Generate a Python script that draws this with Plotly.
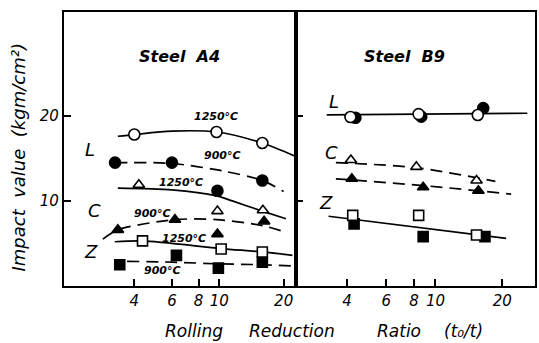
import math
import plotly.graph_objects as go

# ---------------- Steel A4 (left panel) ----------------
a4_L1250_x = [4.0, 9.7, 15.9]
a4_L1250_y = [17.8, 18.1, 16.8]
a4_L1250_cx = [3.35, 4.0, 6.0, 9.7, 15.9, 22.4]
a4_L1250_cy = [17.6, 17.8, 18.2, 18.1, 16.8, 15.3]

a4_L900_x = [3.25, 6.0, 9.8, 15.9]
a4_L900_y = [14.5, 14.5, 11.2, 12.4]
a4_L900_cx = [3.25, 6.0, 10.5, 15.9, 20.0]
a4_L900_cy = [14.5, 14.4, 13.5, 12.4, 11.1]

a4_C1250_x = [4.2, 9.8, 16.0]
a4_C1250_y = [11.9, 8.8, 8.9]
a4_C1250_cx = [3.35, 6.0, 9.7, 11.5, 15.9, 20.5]
a4_C1250_cy = [11.5, 11.3, 10.6, 10.0, 8.8, 7.9]

a4_C900_x = [3.35, 6.2, 9.8, 16.2]
a4_C900_y = [6.6, 7.8, 6.1, 7.6]
a4_C900_cx = [2.85, 3.35, 6.2, 9.7, 15.9, 20.0]
a4_C900_cy = [5.5, 6.6, 7.8, 7.8, 7.1, 6.4]

a4_Z1250_x = [4.37, 10.2, 15.9]
a4_Z1250_y = [5.3, 4.35, 4.0]
a4_Z1250_cx = [3.24, 4.37, 10.2, 15.9, 22.0]
a4_Z1250_cy = [5.2, 5.3, 4.4, 4.0, 3.6]

a4_Z900_x = [3.42, 6.3, 9.9, 15.9]
a4_Z900_y = [2.5, 3.6, 2.1, 2.8]
a4_Z900_cx = [3.7, 6.0, 10.0, 16.0, 22.7]
a4_Z900_cy = [2.9, 2.8, 2.6, 2.5, 2.35]

# ---------------- Steel B9 (right panel) ----------------
b9_L1250_x = [4.14, 8.39, 15.5]
b9_L1250_y = [19.86, 20.2, 20.1]
b9_L900_x = [4.36, 8.63, 16.4]
b9_L900_y = [19.78, 19.9, 20.9]
b9_L_cx = [3.24, 25.9]
b9_L_cy = [20.1, 20.3]

b9_C1250_x = [4.16, 8.2, 15.3]
b9_C1250_y = [14.8, 14.0, 12.4]
b9_C1250_cx = [3.56, 8.2, 18.6]
b9_C1250_cy = [14.5, 13.9, 12.3]

b9_C900_x = [4.2, 8.8, 15.6]
b9_C900_y = [12.6, 11.6, 11.2]
b9_C900_cx = [3.56, 8.8, 21.9]
b9_C900_cy = [12.6, 11.8, 10.8]

b9_Z1250_x = [4.24, 8.4, 15.3]
b9_Z1250_y = [8.3, 8.3, 6.0]
b9_Z900_x = [4.3, 8.8, 16.7]
b9_Z900_y = [7.3, 5.8, 5.8]
b9_Z_cx = [3.3, 20.8]
b9_Z_cy = [8.2, 5.6]

x_ticks = [4, 6, 8, 10, 20]
x_ticktext = ["4", "6", "8", "10", "20"]
y_ticks = [10, 20]
y_ticktext = ["10", "20"]

FONT = "DejaVu Sans"
LW = 1.7
DASH = "12px,7px"

fig = go.Figure()


def curve(x, y, dashed, ax):
    fig.add_trace(go.Scatter(
        x=x, y=y, mode="lines", xaxis="x" + ax, yaxis="y" + ax,
        line=dict(color="black", width=LW, dash=DASH if dashed else "solid",
                  shape="spline", smoothing=0.8),
        hoverinfo="skip", showlegend=False))


def pts(x, y, symbol, filled, ax, size=11):
    fig.add_trace(go.Scatter(
        x=x, y=y, mode="markers", xaxis="x" + ax, yaxis="y" + ax,
        marker=dict(symbol=symbol, size=size,
                    color="black" if filled else "white",
                    line=dict(color="black", width=1.6)),
        showlegend=False))


# left panel
curve(a4_L1250_cx, a4_L1250_cy, False, "")
curve(a4_L900_cx, a4_L900_cy, True, "")
curve(a4_C1250_cx, a4_C1250_cy, False, "")
curve(a4_C900_cx, a4_C900_cy, True, "")
curve(a4_Z1250_cx, a4_Z1250_cy, False, "")
curve(a4_Z900_cx, a4_Z900_cy, True, "")
pts(a4_L900_x, a4_L900_y, "circle", True, "")
pts(a4_L1250_x, a4_L1250_y, "circle", False, "")
pts(a4_C900_x, a4_C900_y, "triangle-up", True, "", 10)
pts(a4_C1250_x, a4_C1250_y, "triangle-up", False, "", 10)
pts(a4_Z900_x, a4_Z900_y, "square", True, "", 10)
pts(a4_Z1250_x, a4_Z1250_y, "square", False, "", 10)

# right panel
curve(b9_L_cx, b9_L_cy, False, "2")
curve(b9_C1250_cx, b9_C1250_cy, True, "2")
curve(b9_C900_cx, b9_C900_cy, True, "2")
curve(b9_Z_cx, b9_Z_cy, False, "2")
pts(b9_L900_x, b9_L900_y, "circle", True, "2")
pts(b9_L1250_x, b9_L1250_y, "circle", False, "2")
pts(b9_C900_x, b9_C900_y, "triangle-up", True, "2", 10)
pts(b9_C1250_x, b9_C1250_y, "triangle-up", False, "2", 10)
pts(b9_Z900_x, b9_Z900_y, "square", True, "2", 10)
pts(b9_Z1250_x, b9_Z1250_y, "square", False, "2", 10)

tickfont = dict(family=FONT, size=15, color="black", style="italic")
common_x = dict(type="log", tickvals=x_ticks, ticktext=x_ticktext, ticks="inside",
                ticklen=7, tickwidth=2, tickcolor="black", showline=True, mirror=True,
                linecolor="black", linewidth=2.2, showgrid=False, zeroline=False,
                tickfont=tickfont)
common_y = dict(range=[0, 32.2], tickvals=y_ticks, ticktext=y_ticktext, ticks="inside",
                ticklen=7, tickwidth=2, tickcolor="black", showline=True, mirror=True,
                linecolor="black", linewidth=2.2, showgrid=False, zeroline=False,
                tickfont=tickfont)

split = 233 / 473
fig.update_layout(
    width=539, height=343,
    margin=dict(l=64, r=2, t=12, b=57),
    paper_bgcolor="white", plot_bgcolor="white",
    showlegend=False,
    xaxis=dict(domain=[0, split], range=[0.273, 1.359], anchor="y", **common_x),
    yaxis=dict(domain=[0, 1], anchor="x", **common_y),
    xaxis2=dict(domain=[split, 1], range=[0.372, 1.448], anchor="y2", **common_x),
    yaxis2=dict(domain=[0, 1], anchor="x2", showticklabels=False,
                **{k: v for k, v in common_y.items() if k != "tickfont"}),
)

ann = []


def txt(text, x, y, size, ax="", bold=False):
    # x given in data units; log axes take log10 positions for annotations
    ann.append(dict(text=("<b>%s</b>" % text) if bold else text, x=math.log10(x), y=y,
                    xref="x" + ax, yref="y" + ax, showarrow=False,
                    xanchor="center", yanchor="middle",
                    font=dict(family=FONT, size=size, color="black", style="italic")))


# panel titles
txt("Steel  A4", 6.5, 27.0, 16, "", True)
txt("Steel  B9", 7.26, 27.0, 16, "2", True)

# series letters
txt("L", 2.48, 16.1, 18)
txt("C", 2.61, 8.9, 18)
txt("Z", 2.50, 4.1, 18)
txt("L", 3.49, 21.7, 18, "2")
txt("C", 3.41, 15.7, 18, "2")
txt("Z", 3.21, 9.8, 18, "2")

# temperature labels
txt("1250°C", 9.7, 19.9, 11, "", True)
txt("900°C", 10.3, 15.3, 11, "", True)
txt("1250°C", 6.65, 12.2, 11, "", True)
txt("900°C", 4.87, 8.5, 11, "", True)
txt("1250°C", 6.87, 5.6, 11, "", True)
txt("900°C", 5.43, 1.8, 11, "", True)

# axis titles
pf = dict(family=FONT, size=17, color="black", style="italic")
ann.append(dict(text="Impact  value  (kgm/cm²)", x=-0.097, y=0.47, xref="paper", yref="paper",
                textangle=-90, showarrow=False, xanchor="center", yanchor="middle",
                font=dict(family=FONT, size=18, color="black", style="italic")))
for word, xc in [("Rolling", 0.277), ("Reduction", 0.484), ("Ratio", 0.712), ("(t₀/t)", 0.848)]:
    ann.append(dict(text=word, x=xc, y=-0.164, xref="paper", yref="paper",
                    xanchor="center", yanchor="middle",
                    showarrow=False, font=pf))

fig.update_layout(annotations=ann)
fig.write_html("out.html")
